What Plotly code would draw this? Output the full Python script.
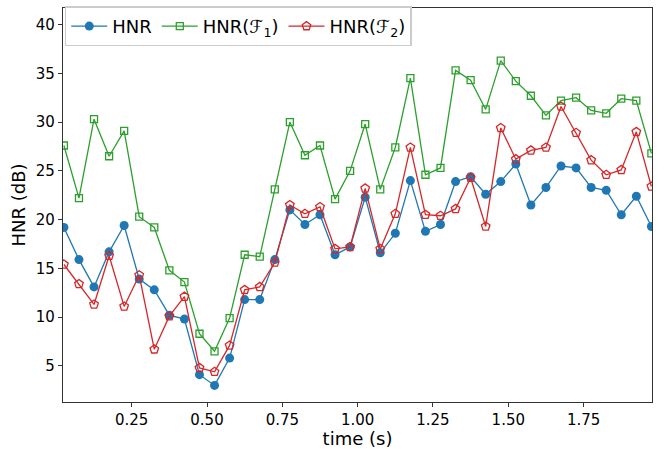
import numpy as np
import plotly.graph_objects as go

# Frame times (s), hop of 50 ms
time_s = [round(0.025 + 0.05 * k, 3) for k in range(40)]

hnr = [19.2, 15.9, 13.1, 16.7, 19.4, 13.9, 12.8, 10.2, 9.8, 4.1,
       3.0, 5.8, 11.8, 11.8, 15.9, 21.0, 19.5, 20.5, 16.4, 17.2,
       22.3, 16.6, 18.6, 24.0, 18.8, 19.5, 23.9, 24.4, 22.6, 23.9,
       25.7, 21.5, 23.3, 25.5, 25.3, 23.3, 23.0, 20.5, 22.4, 19.3]

hnr_f1 = [27.6, 22.2, 30.3, 26.5, 29.1, 20.3, 19.2, 14.8, 13.6, 8.3,
          6.5, 9.9, 16.4, 16.2, 23.1, 30.0, 26.6, 27.6, 22.1, 25.0,
          29.8, 23.1, 27.4, 34.5, 24.6, 25.3, 35.3, 34.3, 31.3, 36.3,
          34.2, 32.7, 30.7, 32.2, 32.5, 31.2, 30.9, 32.4, 32.2, 26.8]

hnr_f2 = [15.4, 13.4, 11.3, 16.3, 11.1, 14.3, 6.7, 10.1, 12.1, 4.8,
          4.4, 7.1, 12.8, 13.1, 15.6, 21.5, 20.6, 21.3, 17.0, 17.2,
          23.2, 17.0, 20.6, 27.4, 20.5, 20.4, 21.1, 24.3, 19.3, 29.4,
          26.2, 27.1, 27.4, 31.6, 28.9, 26.1, 24.6, 25.1, 29.0, 23.4]

x_ticks = [0.25, 0.50, 0.75, 1.00, 1.25, 1.50, 1.75]
y_ticks = [5, 10, 15, 20, 25, 30, 35, 40]

BLUE = "#1f77b4"
GREEN = "#2ca02c"
RED = "#d62728"
FONT = "DejaVu Sans"

fig = go.Figure()
fig.add_trace(go.Scatter(
    x=time_s, y=hnr, name="HNR", mode="lines+markers",
    line=dict(color=BLUE, width=1.3),
    marker=dict(symbol="circle", size=9, color=BLUE),
))
fig.add_trace(go.Scatter(
    x=time_s, y=hnr_f1, name="HNR(ℱ<sub>1</sub>)", mode="lines+markers",
    line=dict(color=GREEN, width=1.3),
    marker=dict(symbol="square-open", size=7, color=GREEN, line=dict(width=1.3)),
))
fig.add_trace(go.Scatter(
    x=time_s, y=hnr_f2, name="HNR(ℱ<sub>2</sub>)", mode="lines+markers",
    line=dict(color=RED, width=1.3),
    marker=dict(symbol="pentagon-open", size=9, color=RED, line=dict(width=1.3)),
))

axis_common = dict(
    showline=True, linecolor="#333333", linewidth=1.2, mirror=True,
    showgrid=False, zeroline=False,
    ticks="outside", ticklen=4, tickwidth=1, tickcolor="#333333",
    tickfont=dict(family=FONT, size=15, color="black"),
)

fig.update_xaxes(
    range=[0.022, 1.977], tickvals=x_ticks,
    ticktext=[f"{v:.2f}" for v in x_ticks],
    title=dict(text="time (s)", font=dict(family=FONT, size=18, color="black"), standoff=2),
    **axis_common,
)
fig.update_yaxes(
    range=[1.3, 41.7], tickvals=y_ticks,
    title=dict(text="HNR (dB)", font=dict(family=FONT, size=18, color="black"), standoff=5),
    **axis_common,
)

fig.update_layout(
    width=665, height=449,
    margin=dict(l=63, r=13, t=6, b=47),
    plot_bgcolor="white", paper_bgcolor="white",
    font=dict(family=FONT, color="black"),
    legend=dict(
        orientation="h", x=0.003, y=1.004, xanchor="left", yanchor="top",
        bgcolor="rgba(255,255,255,0.85)", bordercolor="#cccccc", borderwidth=1.5,
        font=dict(family=FONT, size=18, color="black"),
        itemwidth=36,
    ),
)

fig.write_html("out.html")
